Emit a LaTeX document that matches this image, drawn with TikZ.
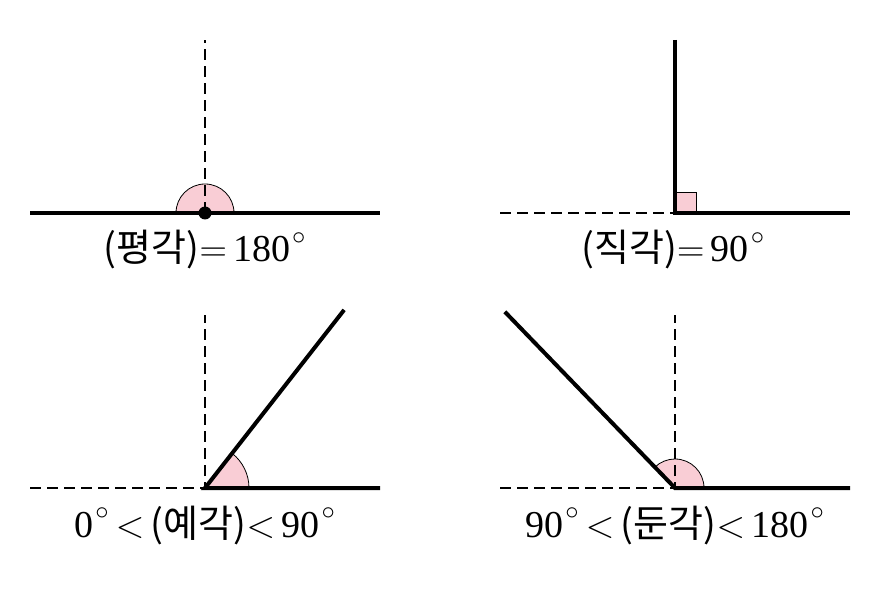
\documentclass[tikz,border=0pt]{standalone}
\usepackage{fix-cm}
\usepackage{fontspec}
\setmainfont{Liberation Serif}
\newfontfamily\kr{Noto Sans CJK KR}
\usetikzlibrary{calc}
\definecolor{anglepink}{HTML}{F9CDD5}
\newcommand{\dg}{\kern2pt\raisebox{4pt}{$^{\circ}$}}

\begin{document}
\begin{tikzpicture}[
    x=1pt, y=1pt,
    thickline/.style={line width=4pt},
    dashline/.style={line width=2pt, dash pattern=on 11pt off 6pt},
    anglefill/.style={fill=anglepink, draw=black, line width=0.8pt},
    lbl/.style={anchor=base, inner sep=0pt, font=\fontsize{38}{40}\selectfont},
    dot/.style={circle, fill, inner sep=0pt, minimum size=13pt},
]
\useasboundingbox (0,0) rectangle (889,611);

% straight angle
\coordinate (o1) at (205,398);
\coordinate (l1) at (30,398);
\coordinate (r1) at (380,398);
\coordinate (t1) at (205,571);
\draw[anglefill] (o1) ++(29,0) arc (0:180:29) -- cycle;
\draw[dashline] (o1) -- (t1);
\draw[thickline] (l1) -- (r1);
\node[dot] (d1) at (o1) {};
\node[lbl] (lab1) at (205,349) {{\kr(평각)}$=$\,180\dg};

% right angle
\coordinate (o2) at (675,398);
\coordinate (l2) at (500,398);
\coordinate (r2) at (850,398);
\coordinate (t2) at (675,571);
\draw[anglefill] (o2) rectangle ++(21,21);
\draw[dashline] (l2) -- (o2);
\draw[thickline] (t2) -- (o2) -- (r2);
\node[lbl] (lab2) at (673,349) {{\kr(직각)}$=$\,90\dg};

% acute angle
\coordinate (o3) at (205,123);
\coordinate (l3) at (30,123);
\coordinate (r3) at (380,123);
\coordinate (t3) at (205,296);
\coordinate (e3) at ($(o3)+(52:226)$);
\draw[anglefill] (o3) -- ++(44,0) arc (0:52:44) -- cycle;
\draw[dashline] (l3) -- (o3) -- (t3);
\draw[thickline] (e3) -- (o3) -- (r3);
\node[lbl] (lab3) at (205,74) {0\dg\,$<$\,{\kr(예각)}$<$\,90\dg};

% obtuse angle
\coordinate (o4) at (675,123);
\coordinate (l4) at (500,123);
\coordinate (r4) at (850,123);
\coordinate (t4) at (675,296);
\coordinate (e4) at ($(o4)+(134:245)$);
\draw[anglefill] (o4) -- ++(29,0) arc (0:134:29) -- cycle;
\draw[dashline] (l4) -- (o4) -- (t4);
\draw[thickline] (e4) -- (o4) -- (r4);
\node[lbl] (lab4) at (675,74) {90\dg\,$<$\,{\kr(둔각)}$<$\,180\dg};

\end{tikzpicture}
\end{document}
